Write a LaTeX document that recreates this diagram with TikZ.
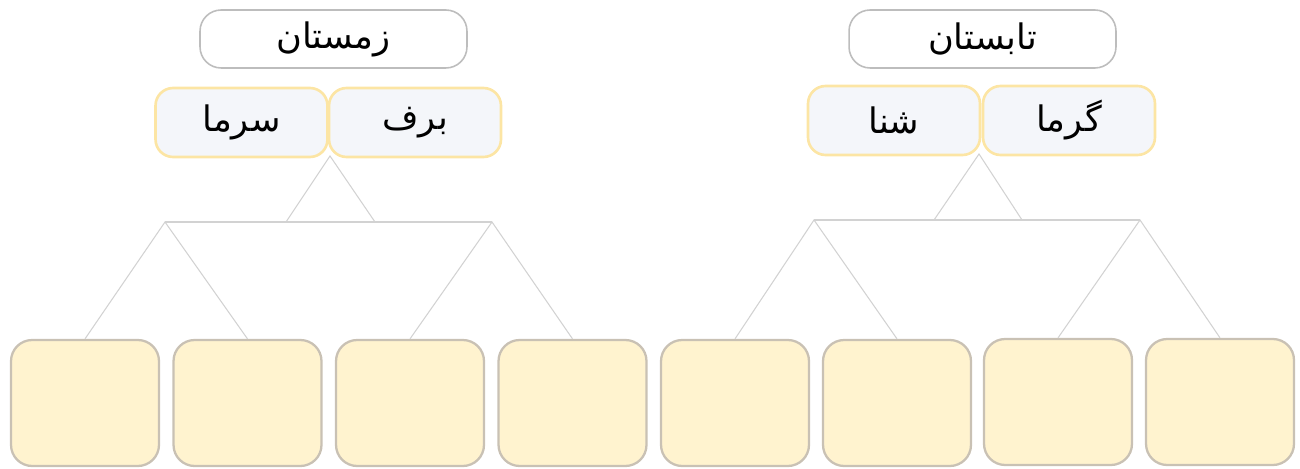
\documentclass[tikz,border=0pt]{standalone}
\usepackage{fontspec}
\newfontfamily\arabicfont[Script=Arabic]{DejaVu Sans}
\TeXXeTstate=1
\definecolor{titleline}{HTML}{BDBDBD}
\definecolor{wordfill}{HTML}{F4F6FA}
\definecolor{wordline}{HTML}{FCE5A4}
\definecolor{cellfill}{HTML}{FFF3CF}
\definecolor{cellline}{HTML}{C9C1B4}
\definecolor{branch}{HTML}{D2D2D2}
\newcommand{\fa}{\arabicfont\fontsize{20}{24}\selectfont}

\begin{document}
\begin{tikzpicture}[
        x=0.02cm, y=-0.02cm,
        season/.style={rectangle, rounded corners=12pt, draw=titleline, line width=0.9pt, fill=white, minimum width=5.34cm, minimum height=1.16cm, font=\fa},
        word/.style={rectangle, rounded corners=10pt, draw=wordline, line width=1.5pt, fill=wordfill, minimum width=3.44cm, minimum height=1.38cm, font=\fa},
        cell/.style={rectangle, rounded corners=12pt, draw=cellline, line width=1.3pt, fill=cellfill, minimum width=2.96cm, minimum height=2.52cm},
        link/.style={draw=branch, line width=0.6pt}
        ]
      \useasboundingbox (0,0) rectangle (1300,469);

      % titles
      \node[season] (winter) at (333.5,39) {\beginR زمستان\endR};
      \node[season] (summer) at (982.5,39) {\beginR تابستان\endR};

      % words
      \node[word] (cold) at (241.5,122.5) {\beginR سرما\endR};
      \node[word] (snow) at (415,122.5) {\beginR برف\endR};
      \node[word] (swim) at (894,120.5) {\beginR شنا\endR};
      \node[word] (heat) at (1069,120.5) {\beginR گرما\endR};

      % empty cells
      \node[cell] (c1) at (85,403) {};
      \node[cell] (c2) at (247.5,403) {};
      \node[cell] (c3) at (410,403) {};
      \node[cell] (c4) at (572.5,403) {};
      \node[cell] (c5) at (735,403) {};
      \node[cell] (c6) at (897,403) {};
      \node[cell] (c7) at (1058,402) {};
      \node[cell] (c8) at (1220,402) {};

      % left tree
      \coordinate (topL) at (330,156);
      \coordinate (baseLa) at (286,222);
      \coordinate (baseLb) at (375,222);
      \coordinate (forkL1) at (165,222);
      \coordinate (forkL2) at (492,222);
      \draw[link] (baseLa) -- (topL) -- (baseLb);
      \draw[link] (forkL1) -- (forkL2);
      \draw[link] (c1.north) -- (forkL1) -- (c2.north);
      \draw[link] (c3.north) -- (forkL2) -- (c4.north);

      % right tree
      \coordinate (topR) at (979,154);
      \coordinate (baseRa) at (934,220);
      \coordinate (baseRb) at (1022,220);
      \coordinate (forkR1) at (814,220);
      \coordinate (forkR2) at (1140,220);
      \draw[link] (baseRa) -- (topR) -- (baseRb);
      \draw[link] (forkR1) -- (forkR2);
      \draw[link] (c5.north) -- (forkR1) -- (c6.north);
      \draw[link] (c7.north) -- (forkR2) -- (c8.north);

    \end{tikzpicture}
\end{document}
